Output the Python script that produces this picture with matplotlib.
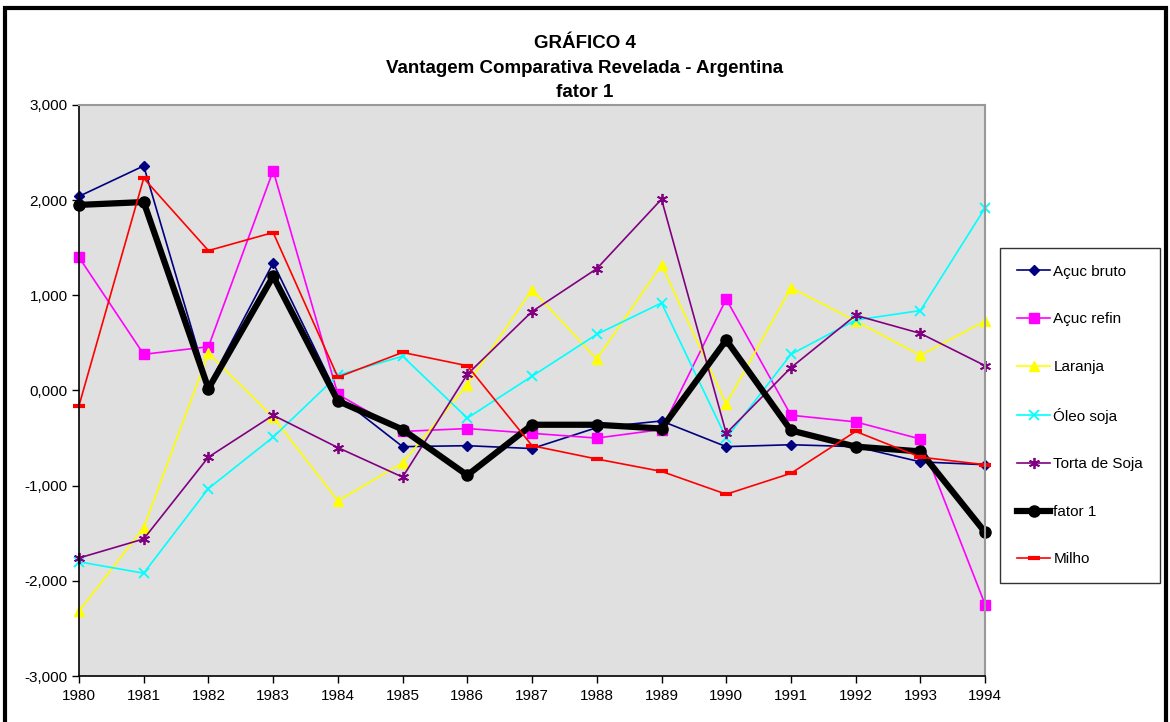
import numpy as np
import matplotlib
matplotlib.use('Agg')
import matplotlib.pyplot as plt
from matplotlib.patches import Rectangle
from matplotlib.ticker import FuncFormatter

years = list(range(1980, 1995))

acuc_bruto = [2.04, 2.36, 0.05, 1.34, -0.06, -0.59, -0.58, -0.61, -0.39, -0.32, -0.59, -0.57, -0.59, -0.75, -0.78]
acuc_refin = [1.40, 0.38, 0.46, 2.31, -0.04, -0.43, -0.40, -0.45, -0.50, -0.41, 0.96, -0.26, -0.33, -0.51, -2.25]
laranja = [-2.32, -1.44, 0.39, -0.28, -1.16, -0.76, 0.06, 1.06, 0.33, 1.32, -0.14, 1.08, 0.73, 0.37, 0.73]
oleo_soja = [-1.80, -1.92, -1.03, -0.49, 0.16, 0.36, -0.29, 0.15, 0.59, 0.92, -0.50, 0.38, 0.74, 0.84, 1.92]
torta_soja = [-1.76, -1.56, -0.70, -0.26, -0.60, -0.91, 0.17, 0.83, 1.28, 2.01, -0.45, 0.24, 0.79, 0.60, 0.26]
fator1 = [1.95, 1.98, 0.02, 1.20, -0.11, -0.41, -0.89, -0.36, -0.36, -0.40, 0.53, -0.42, -0.59, -0.64, -1.49]
milho = [-0.16, 2.23, 1.47, 1.66, 0.14, 0.40, 0.26, -0.58, -0.72, -0.85, -1.09, -0.87, -0.43, -0.70, -0.78]

plt.rcParams['font.family'] = ['Liberation Sans', 'DejaVu Sans']

fig = plt.figure(figsize=(11.7, 7.22), dpi=100)
ax = fig.add_axes([0.0675, 0.0637, 0.7745, 0.7909])
ax.set_facecolor('#E0E0E0')

lw = 1.2
ax.plot(years, acuc_bruto, color='#000080', lw=lw, marker='D', ms=5, label='Açuc bruto', clip_on=False)
ax.plot(years, acuc_refin, color='#FF00FF', lw=lw, marker='s', ms=7, label='Açuc refin', clip_on=False)
ax.plot(years, laranja, color='#FFFF00', lw=lw, marker='^', ms=7, label='Laranja', clip_on=False)
ax.plot(years, oleo_soja, color='#00FFFF', lw=lw, marker='x', ms=7, mew=1.3, label='Óleo soja', clip_on=False)
ax.plot(years, torta_soja, color='#800080', lw=lw, marker=(6, 2, 0), ms=8, mew=1.3, label='Torta de Soja', clip_on=False)
ax.plot(years, fator1, color='black', lw=4.5, marker='o', ms=8, label='fator 1', clip_on=False)
ax.plot(years, milho, color='#FF0000', lw=lw, marker='_', ms=8, mew=3, label='Milho', clip_on=False)

ax.set_xlim(1980, 1994)
ax.set_ylim(-3, 3)
ax.set_xticks(years)
ax.set_yticks(range(-3, 4))
ax.yaxis.set_major_formatter(FuncFormatter(lambda v, p: '{:.3f}'.format(v).replace('.', ',')))
ax.tick_params(direction='out', length=5, width=1, labelsize=11, colors='black')
ax.tick_params(axis='x', pad=4)
ax.tick_params(axis='y', pad=3)
for s in ['top', 'right']:
    ax.spines[s].set_color('#999999')
    ax.spines[s].set_linewidth(1.5)
for s in ['left', 'bottom']:
    ax.spines[s].set_color('black')
    ax.spines[s].set_linewidth(1.2)

fig.text(0.5, 0.940, 'GRÁFICO 4', ha='center', va='center', fontsize=13.5, fontweight='bold')
fig.text(0.5, 0.905, 'Vantagem Comparativa Revelada - Argentina', ha='center', va='center', fontsize=13.5, fontweight='bold')
fig.text(0.5, 0.872, 'fator 1', ha='center', va='center', fontsize=13.5, fontweight='bold')

leg = fig.legend(loc='upper left', bbox_to_anchor=(1000 / 1170, 1 - 248 / 722), frameon=True,
                 fancybox=False, edgecolor='black', fontsize=11, labelspacing=2.2,
                 handlelength=2.2, handletextpad=0.2, borderpad=1.1, borderaxespad=0)
leg.get_frame().set_linewidth(1.0)

fig.patches.append(Rectangle((5 / 1170, -0.01), 1161 / 1170, 1 - 8 / 722 + 0.01, transform=fig.transFigure,
                             fill=False, edgecolor='black', linewidth=3))

fig.savefig('out.png', dpi=100)
